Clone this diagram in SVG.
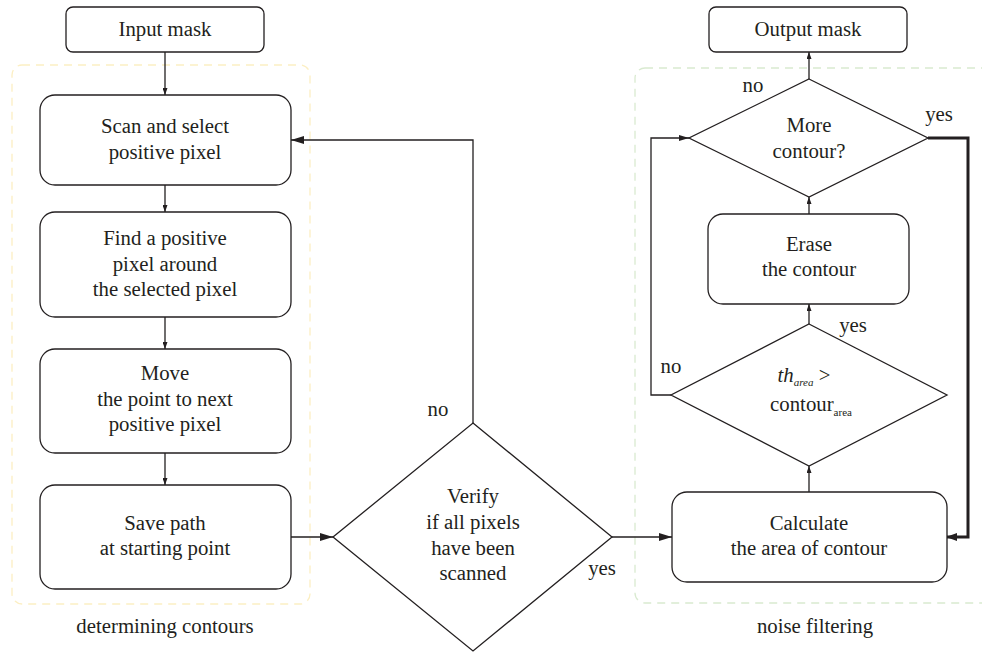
<svg xmlns="http://www.w3.org/2000/svg" width="982" height="654" viewBox="0 0 982 654">
  <style>
    .box { fill: #ffffff; stroke: #231f20; stroke-width: 1.3; }
    .dec { fill: #ffffff; stroke: #231f20; stroke-width: 1.3; }
    .lbl { font-family: 'Liberation Serif', 'DejaVu Serif', 'Times New Roman', serif; font-size: 20.8px; fill: #231f20; text-anchor: middle; }
    .edge { fill: none; stroke: #231f20; stroke-width: 1.3; }
    .thick { fill: none; stroke: #231f20; stroke-width: 3; }
    .region-y { fill: none; stroke: #fcefc3; stroke-width: 1.3; stroke-dasharray: 8 6; }
    .region-g { fill: none; stroke: #d9ead0; stroke-width: 1.3; stroke-dasharray: 8 6; }
  </style>
  <defs>
    <marker id="arr" viewBox="0 0 10 6" refX="10" refY="3" markerWidth="10" markerHeight="6" markerUnits="userSpaceOnUse" orient="auto">
      <path d="M0,0 L10,3 L0,6 Z" fill="#231f20"/>
    </marker>
    <marker id="arrL" viewBox="0 0 13 8" refX="13" refY="4" markerWidth="13" markerHeight="8" markerUnits="userSpaceOnUse" orient="auto">
      <path d="M0,0 L13,4 L0,8 Z" fill="#231f20"/>
    </marker>
    <marker id="arrS" viewBox="0 0 7 5" refX="7" refY="2.5" markerWidth="7" markerHeight="5" markerUnits="userSpaceOnUse" orient="auto">
      <path d="M0,0 L7,2.5 L0,5 Z" fill="#231f20"/>
    </marker>
  </defs>

  <rect width="982" height="654" fill="#ffffff"/>

  <!-- grouping regions -->
  <g id="region-contours">
    <rect class="region-y" x="12" y="65" width="298" height="539" rx="10"/>
    <text class="lbl" x="165" y="633">determining contours</text>
  </g>
  <g id="region-noise">
    <rect class="region-g" x="635" y="68" width="380" height="535" rx="10"/>
    <text class="lbl" x="815" y="633">noise filtering</text>
  </g>

  <!-- connectors -->
  <g id="connectors">
    <line class="edge" x1="165" y1="52" x2="165" y2="95" marker-end="url(#arrS)"/>
    <line class="edge" x1="165" y1="185" x2="165" y2="212" marker-end="url(#arrS)"/>
    <line class="edge" x1="165" y1="317" x2="165" y2="349" marker-end="url(#arrS)"/>
    <line class="edge" x1="165" y1="453" x2="165" y2="485" marker-end="url(#arrS)"/>
    <line class="edge" x1="291" y1="537" x2="333" y2="537" marker-end="url(#arrL)"/>
    <polyline class="edge" points="473,423 473,140 291,140" marker-end="url(#arrL)"/>
    <line class="edge" x1="612" y1="537" x2="672" y2="537" marker-end="url(#arrL)"/>
    <line class="edge" x1="809" y1="492" x2="809" y2="466" marker-end="url(#arrS)"/>
    <line class="edge" x1="809" y1="324" x2="809" y2="304" marker-end="url(#arrS)"/>
    <line class="edge" x1="809" y1="214" x2="809" y2="197" marker-end="url(#arrS)"/>
    <line class="edge" x1="809" y1="79" x2="809" y2="52" marker-end="url(#arrS)"/>
    <polyline class="edge" points="671,395 651,395 651,138 689,138" marker-end="url(#arr)"/>
    <polyline class="thick" points="928,138 968,138 968,537 947,537"/>
    <path d="M946,537 L957,533 L957,541 Z" fill="#231f20"/>
    <text class="lbl" x="438" y="416">no</text>
    <text class="lbl" x="602" y="575">yes</text>
    <text class="lbl" x="753" y="92">no</text>
    <text class="lbl" x="939" y="121">yes</text>
    <text class="lbl" x="853" y="332">yes</text>
    <text class="lbl" x="671" y="373">no</text>
  </g>

  <!-- nodes -->
  <g id="input-mask">
    <rect class="box" x="66" y="7" width="198" height="45" rx="7"/>
    <text class="lbl" x="165" y="36">Input mask</text>
  </g>
  <g id="scan-select">
    <rect class="box" x="40" y="95" width="251" height="90" rx="15"/>
    <text class="lbl" x="165" y="133">Scan and select</text>
    <text class="lbl" x="165" y="159">positive pixel</text>
  </g>
  <g id="find-pixel">
    <rect class="box" x="40" y="212" width="251" height="105" rx="15"/>
    <text class="lbl" x="165" y="245">Find a positive</text>
    <text class="lbl" x="165" y="270.5">pixel around</text>
    <text class="lbl" x="165" y="296">the selected pixel</text>
  </g>
  <g id="move-point">
    <rect class="box" x="40" y="349" width="251" height="104" rx="15"/>
    <text class="lbl" x="165" y="380">Move</text>
    <text class="lbl" x="165" y="405.5">the point to next</text>
    <text class="lbl" x="165" y="431">positive pixel</text>
  </g>
  <g id="save-path">
    <rect class="box" x="40" y="485" width="251" height="104" rx="15"/>
    <text class="lbl" x="165" y="530">Save path</text>
    <text class="lbl" x="165" y="555">at starting point</text>
  </g>
  <g id="verify">
    <polygon class="dec" points="473,423 612,537 473,651 333,537"/>
    <text class="lbl" x="473" y="503">Verify</text>
    <text class="lbl" x="473" y="529">if all pixels</text>
    <text class="lbl" x="473" y="555">have been</text>
    <text class="lbl" x="473" y="580">scanned</text>
  </g>
  <g id="calculate-area">
    <rect class="box" x="672" y="492" width="275" height="90" rx="15"/>
    <text class="lbl" x="809" y="530">Calculate</text>
    <text class="lbl" x="809" y="555">the area of contour</text>
  </g>
  <g id="threshold">
    <polygon class="dec" points="809,324 947,395 809,466 671,395"/>
    <text class="lbl" x="804" y="382"><tspan font-style="italic">th</tspan><tspan font-style="italic" font-size="11" dy="4">area</tspan><tspan dy="-4"> &gt;</tspan></text>
    <text class="lbl" x="811" y="411">contour<tspan font-size="11" dy="5">area</tspan></text>
  </g>
  <g id="erase-contour">
    <rect class="box" x="708" y="214" width="201" height="90" rx="15"/>
    <text class="lbl" x="809" y="251">Erase</text>
    <text class="lbl" x="809" y="276">the contour</text>
  </g>
  <g id="more-contour">
    <polygon class="dec" points="809,79 928,138 809,197 689,138"/>
    <text class="lbl" x="809" y="132">More</text>
    <text class="lbl" x="809" y="158">contour?</text>
  </g>
  <g id="output-mask">
    <rect class="box" x="709" y="7" width="198" height="45" rx="7"/>
    <text class="lbl" x="808" y="36">Output mask</text>
  </g>
</svg>
